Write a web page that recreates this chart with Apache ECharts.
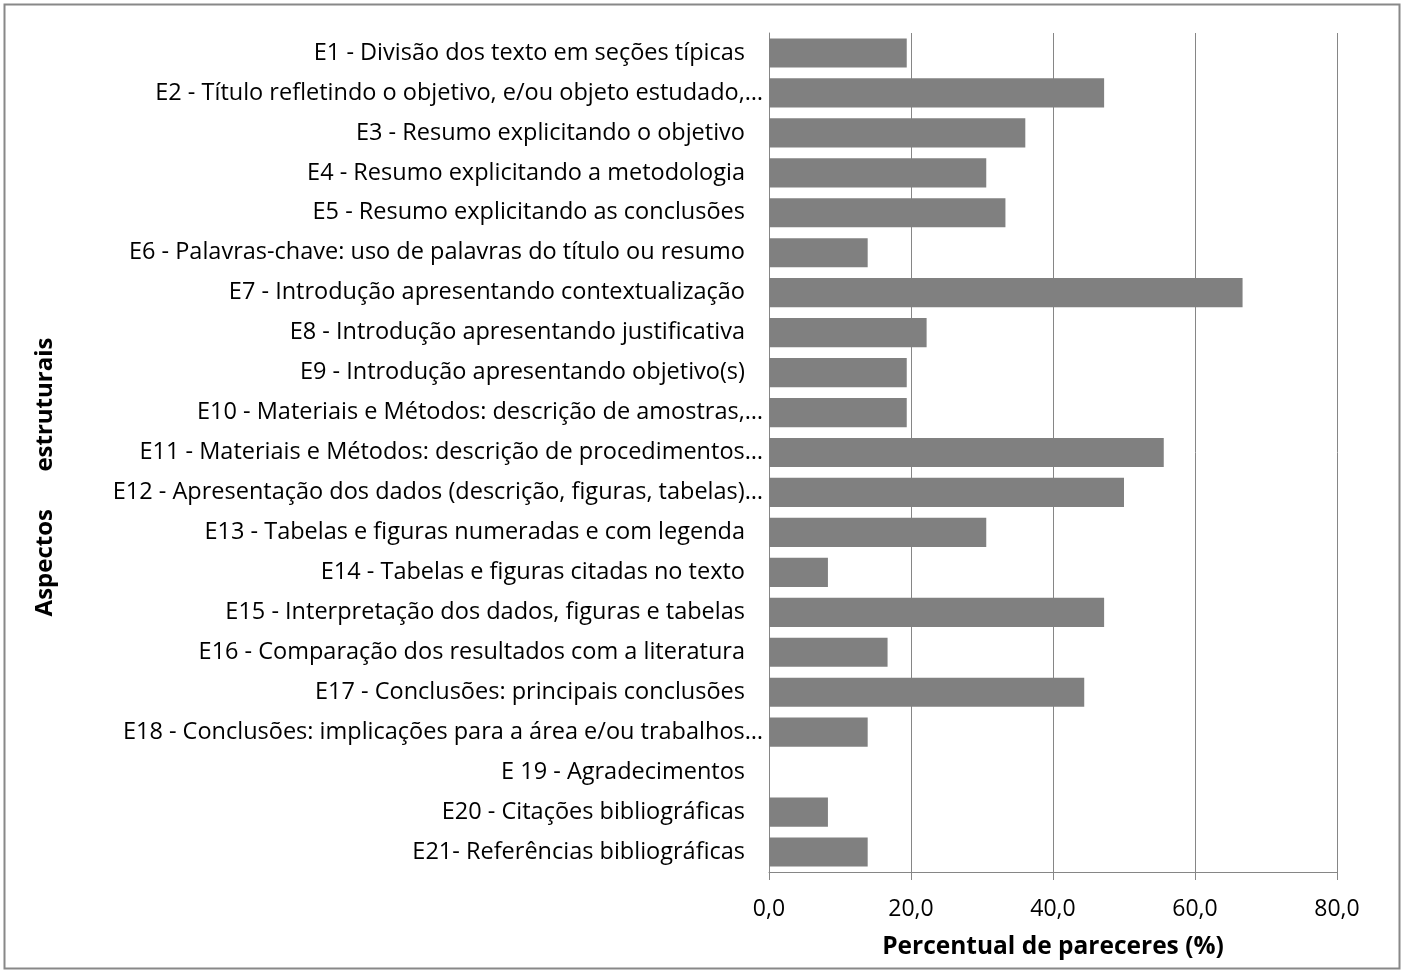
<!DOCTYPE html>
<html><head><meta charset="utf-8">
<script src="https://cdn.jsdelivr.net/npm/echarts@6/dist/echarts.min.js"></script>
<style>html,body{margin:0;padding:0;background:#fff}#c{width:1401px;height:970px}</style>
</head><body><div id="c"></div>
<script>
const categories = [
  "E1 - Divisão dos texto em seções típicas",
  "E2 - Título refletindo o objetivo, e/ou objeto estudado,…",
  "E3 - Resumo explicitando o objetivo",
  "E4 - Resumo explicitando a metodologia",
  "E5 - Resumo explicitando as conclusões",
  "E6 - Palavras-chave: uso de palavras do título ou resumo",
  "E7 - Introdução apresentando contextualização",
  "E8 - Introdução apresentando justificativa",
  "E9 - Introdução apresentando objetivo(s)",
  "E10 - Materiais e Métodos: descrição de amostras,…",
  "E11 - Materiais e Métodos: descrição de procedimentos…",
  "E12 - Apresentação dos dados (descrição, figuras, tabelas)…",
  "E13 - Tabelas e figuras numeradas e com legenda",
  "E14 - Tabelas e figuras citadas no texto",
  "E15 - Interpretação dos dados, figuras e tabelas",
  "E16 - Comparação dos resultados com a literatura",
  "E17 - Conclusões: principais conclusões",
  "E18 - Conclusões: implicações para a área e/ou trabalhos…",
  "E 19 - Agradecimentos",
  "E20 - Citações bibliográficas",
  "E21- Referências bibliográficas"
];
const values = [19.4, 47.2, 36.1, 30.6, 33.3, 13.9, 66.7, 22.2, 19.4, 19.4, 55.6, 50.0, 30.6, 8.3, 47.2, 16.7, 44.4, 13.9, 0, 8.3, 13.9];
const xAxisTitle = "Percentual de pareceres (%)";
const yAxisTitle = "Aspectos      estruturais";

const FONT = "Open Sans";
const chart = echarts.init(document.getElementById('c'), null, {renderer: 'canvas'});
chart.setOption({
  animation: false,
  backgroundColor: '#fff',
  grid: {left: 769, right: 64, top: 33, bottom: 98, containLabel: false},
  xAxis: {
    type: 'value', min: 0, max: 80, interval: 20,
    name: xAxisTitle, nameLocation: 'middle', nameGap: 63,
    nameTextStyle: {fontFamily: FONT, fontSize: 24.5, fontWeight: 'bold', color: '#000'},
    axisLine: {show: true, lineStyle: {color: '#868686', width: 1}},
    axisTick: {show: true, length: 8, lineStyle: {color: '#868686'}},
    axisLabel: {fontFamily: FONT, fontSize: 23, color: '#000', margin: 26,
      formatter: v => v.toFixed(1).replace('.', ',')},
    splitLine: {show: true, lineStyle: {color: '#868686', width: 1}}
  },
  yAxis: {
    type: 'category', data: categories, inverse: true,
    axisLine: {show: true, lineStyle: {color: '#868686', width: 1}},
    axisTick: {show: false},
    axisLabel: {
      fontFamily: FONT, fontSize: 23.5, color: '#000', margin: 6,
      formatter: s => s.endsWith('…') ? '{e|' + s + '}' : '{n|' + s + '}',
      rich: {
        e: {fontFamily: FONT, fontSize: 23.5, color: '#000'},
        n: {fontFamily: FONT, fontSize: 23.5, color: '#000', padding: [0, 18, 0, 0]}
      }
    },
    splitLine: {show: false}
  },
  series: [{
    type: 'bar', data: values, barCategoryGap: '27%',
    itemStyle: {color: '#808080'}
  }],
  graphic: [
    {type: 'rect', left: 2, top: 2, shape: {width: 1395, height: 964},
     style: {fill: 'none', stroke: '#888', lineWidth: 2}},
    {type: 'text', x: 45, y: 477, rotation: Math.PI / 2,
     style: {text: yAxisTitle, fontFamily: FONT, fontSize: 24, fontWeight: 'bold', fill: '#000',
             textAlign: 'center', textVerticalAlign: 'middle'}}
  ]
});
</script></body></html>
